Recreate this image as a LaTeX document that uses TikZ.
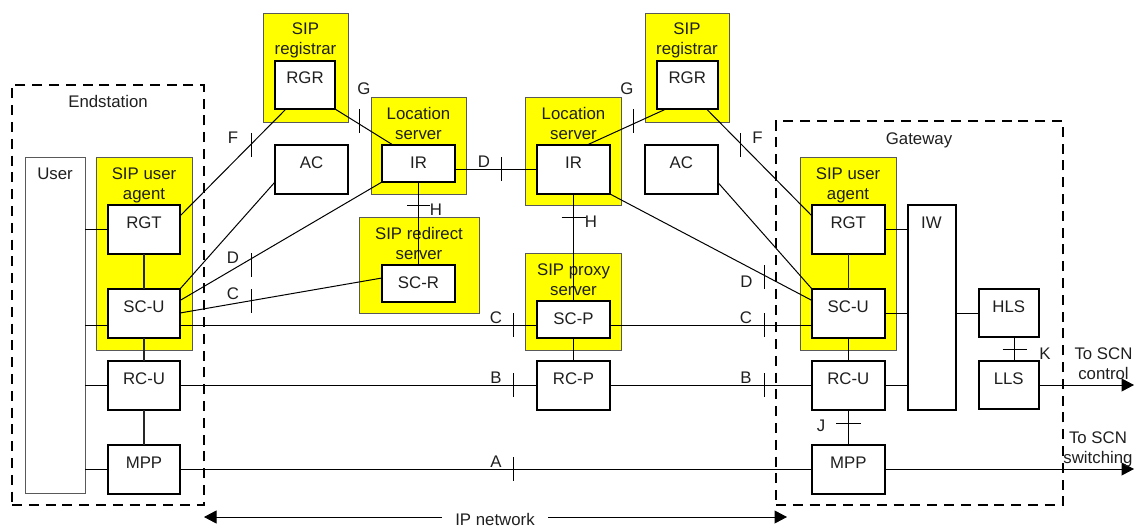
\documentclass[tikz,border=0pt]{standalone}
\usepackage{fontspec}
\setmainfont{Liberation Sans}
\usetikzlibrary{arrows.meta,calc}
\definecolor{sipyellow}{RGB}{255,255,0}
\tikzset{
  txt/.style={font=\fontsize{16.8}{20}\selectfont,text=black!88},
  boxbase/.style={txt,rectangle,inner sep=0pt,outer sep=0pt,align=center},
  ybox/.style={boxbase,draw=black!65,line width=1pt,fill=sipyellow},
  wbox/.style={boxbase,draw=black,line width=2pt,fill=white},
  tbox/.style={boxbase,draw=black!65,line width=1pt,fill=white},
  dbox/.style={rectangle,draw=black,line width=2pt,dash pattern=on 10pt off 6.8pt,inner sep=0pt,outer sep=0pt},
  conn/.style={draw=black,line width=1pt},
  sconn/.style={draw=black!85,line width=1.2pt},
  arr/.style={conn,-{Triangle[length=12.5pt,width=13pt]}},
  lbl/.style={txt,anchor=base,inner sep=0pt,align=center},
}
\newcommand{\bx}[8][]{%
  \pgfmathsetmacro{\bxw}{#5-#3}%
  \pgfmathsetmacro{\bxh}{#6-#4}%
  \pgfmathsetmacro{\bxd}{#6-#4-#7}%
  \pgfmathsetmacro{\bxcx}{(#3+#5)/2}%
  \pgfmathsetmacro{\bxcy}{(#4+#6)/2}%
  \node[#1,minimum width=\bxw pt,minimum height=\bxh pt,text height=#7pt,text depth=\bxd pt] (#2) at (\bxcx,\bxcy) {#8};%
}
\newcommand{\tickv}[4]{%
  \coordinate (#1a) at (#2,#3); \coordinate (#1b) at (#2,#4);
  \draw[conn] (#1a) -- (#1b);}
\newcommand{\tickh}[4]{%
  \coordinate (#1a) at (#2,#4); \coordinate (#1b) at (#3,#4);
  \draw[conn] (#1a) -- (#1b);}
\begin{document}
\begin{tikzpicture}[x=1pt,y=-1pt]
\useasboundingbox (0,0) rectangle (1135,527);
% yellow containers
\bx[ybox]{regL}{263}{13.5}{348}{122}{41.5}{SIP\\registrar}
\bx[ybox]{locL}{371}{97}{466}{194}{42}{Location\\server}
\bx[ybox]{redir}{359}{217}{479}{313}{42}{SIP redirect\\server}
\bx[ybox]{uaL}{96}{157}{192}{350}{42}{SIP user\\agent}
\bx[ybox]{locR}{525.5}{97}{621.5}{205}{42}{Location\\server}
\bx[ybox]{proxy}{525.5}{253}{621.5}{350}{42}{SIP proxy\\server}
\bx[ybox]{regR}{645}{13.5}{729}{122}{41.5}{SIP\\registrar}
\bx[ybox]{uaR}{800}{157}{896}{350}{42}{SIP user\\agent}
% white boxes
\bx[tbox]{user}{25}{157}{85}{493}{22}{User}
\bx[wbox]{rgrL}{275}{61}{335}{109}{23}{RGR}
\bx[wbox]{acL}{275}{145}{348}{194}{23}{AC}
\bx[wbox]{irL}{382}{145}{455}{182}{23}{IR}
\bx[wbox]{scr}{382}{265}{455}{302}{23}{SC-R}
\bx[wbox]{rgtL}{108}{205}{180}{254}{23}{RGT}
\bx[wbox]{scuL}{108}{289}{180}{338}{23}{SC-U}
\bx[wbox]{rcuL}{108}{361}{180}{410}{23}{RC-U}
\bx[wbox]{mppL}{108}{445}{180}{494}{23}{MPP}
\bx[wbox]{irR}{537}{145}{610}{194}{23}{IR}
\bx[wbox]{scp}{537}{301}{610}{338}{23}{SC-P}
\bx[wbox]{rcp}{537}{361}{610}{410}{23}{RC-P}
\bx[wbox]{rgrR}{657}{61}{717.5}{109}{23}{RGR}
\bx[wbox]{acR}{645}{145}{717.5}{194}{23}{AC}
\bx[wbox]{rgtR}{812}{205}{884.5}{254}{23}{RGT}
\bx[wbox]{scuR}{812}{289}{884.5}{338}{23}{SC-U}
\bx[wbox]{rcuR}{812}{361}{884.5}{410}{23}{RC-U}
\bx[wbox]{mppR}{812}{445}{884.5}{494}{23}{MPP}
\bx[wbox]{iw}{907.5}{205}{955.5}{410}{23}{IW}
\bx[wbox]{hls}{979}{289}{1038.5}{337}{23}{HLS}
\bx[wbox]{lls}{979}{361}{1038.5}{409}{23}{LLS}
% dashed regions
\node[dbox,minimum width=191.5pt,minimum height=420pt] (endst) at (107.75,295) {};
\node[dbox,minimum width=287pt,minimum height=384pt] (gatew) at (919.5,313) {};
% connectors left
\draw[conn] (user.east |- 0,229) -- (rgtL.west |- 0,229);
\draw[conn] (user.east |- 0,325) -- (scuL.west |- 0,325);
\draw[conn] (user.east |- 0,385) -- (rcuL.west |- 0,385);
\draw[conn] (user.east |- 0,469) -- (mppL.west |- 0,469);
\draw[sconn] (rgtL) -- (scuL);
\draw[sconn] (scuL) -- (rcuL);
\draw[sconn] (rcuL) -- (mppL);
\draw[conn] (rgtL.east |- 0,216) -- (rgrL.south -| 286,0);
\draw[conn] (scuL.north east) -- (acL.west |- 0,182);
\draw[conn] (scuL.east |- 0,300.5) -- (irL.south west);
\draw[conn] (scuL.east |- 0,313) -- (scr.west |- 0,278);
\draw[conn] (rgrL.south east) -- (irL.north -| 393,0);
\draw[conn] (irL) -- (scr);
\draw[conn] (irL.east |- 0,169) -- (irR.west |- 0,169);
\draw[conn] (irR) -- (scp);
\draw[conn] (irR.north -| 587,0) -- (rgrR.south -| 666,0);
\draw[conn] (rgrR.south -| 706.5,0) -- (rgtR.west |- 0,216);
\draw[conn] (acR.east |- 0,182) -- (scuR.north west);
\draw[conn] (irR.south east) -- (scuR.west |- 0,300.5);
% horizontal planes
\draw[conn] (scuL.east |- 0,325) -- (scp.west |- 0,325);
\draw[conn] (scp.east |- 0,325) -- (scuR.west |- 0,325);
\draw[conn] (rcuL.east |- 0,385) -- (rcp.west |- 0,385);
\draw[conn] (rcp.east |- 0,385) -- (rcuR.west |- 0,385);
\draw[conn] (mppL.east |- 0,469) -- (mppR.west |- 0,469);
\draw[conn] (scp) -- (rcp);
% gateway
\draw[conn] (rgtR.east |- 0,229) -- (iw.west |- 0,229);
\draw[conn] (scuR.east |- 0,313) -- (iw.west |- 0,313);
\draw[conn] (rcuR.east |- 0,385) -- (iw.west |- 0,385);
\draw[conn] (iw.east |- 0,313) -- (hls.west |- 0,313);
\draw[sconn] (rgtR) -- (scuR);
\draw[conn] (scuR) -- (rcuR);
\draw[conn] (rcuR) -- (mppR);
\draw[conn] ([xshift=6pt]hls.south) -- ([xshift=6pt]lls.north);
\coordinate (outA) at (1134,385);
\coordinate (outB) at (1134,469);
\draw[arr] (lls.east |- outA) -- (outA);
\draw[arr] (mppR.east |- outB) -- (outB);
% ticks
\tickv{tF}{251}{133}{157}
\tickv{tG}{359}{109}{133}
\tickv{tD}{251}{253}{277}
\tickv{tC}{251}{289}{313}
\tickv{tDm}{501}{157}{181}
\tickv{tCm}{513.5}{313}{337}
\tickv{tBm}{513.5}{373}{397}
\tickv{tAm}{513.5}{457}{481}
\tickv{tGr}{633}{109}{133}
\tickv{tFr}{740.5}{133}{157}
\tickv{tDr}{764}{265}{289}
\tickv{tCr}{764}{313}{337}
\tickv{tBr}{764}{373}{397}
\tickh{tHl}{407}{430}{205}
\tickh{tHr}{561.5}{586}{217}
\tickh{tJ}{836}{860.5}{423.5}
\tickh{tK}{1002.5}{1027}{349}
% letters
\node[lbl] (lF) at (233,143) {F};
\node[lbl] (lG) at (364,95) {G};
\node[lbl] (lD) at (233,263) {D};
\node[lbl] (lC) at (233,299) {C};
\node[lbl] (lDm) at (484,167) {D};
\node[lbl] (lHl) at (436,215) {H};
\node[lbl] (lHr) at (591,227) {H};
\node[lbl] (lCm) at (496,323) {C};
\node[lbl] (lBm) at (496,383) {B};
\node[lbl] (lAm) at (496,467) {A};
\node[lbl] (lGr) at (627,95) {G};
\node[lbl] (lFr) at (757.5,143) {F};
\node[lbl] (lDr) at (746.5,287) {D};
\node[lbl] (lCr) at (746,323) {C};
\node[lbl] (lBr) at (746,383) {B};
\node[lbl] (lJ) at (821,431) {J};
\node[lbl] (lK) at (1045,359) {K};
\node[lbl] (endl) at (108,107) {Endstation};
\node[lbl] (gatl) at (919,144) {Gateway};
\node[lbl] (sc1) at (1103.5,359) {To SCN};
\node[lbl] (sc2) at (1103.5,379) {control};
\node[lbl] (sw1) at (1098,443) {To SCN};
\node[lbl] (sw2) at (1098,463) {switching};
% IP network
\node[lbl,minimum width=106pt] (ipnet) at (495,525.5) {IP network};
\coordinate (ipL) at (204,517);
\coordinate (ipR) at (787,517);
\draw[arr] (ipnet.west |- ipL) -- (ipL);
\draw[arr] (ipnet.east |- ipR) -- (ipR);
\end{tikzpicture}
\end{document}
